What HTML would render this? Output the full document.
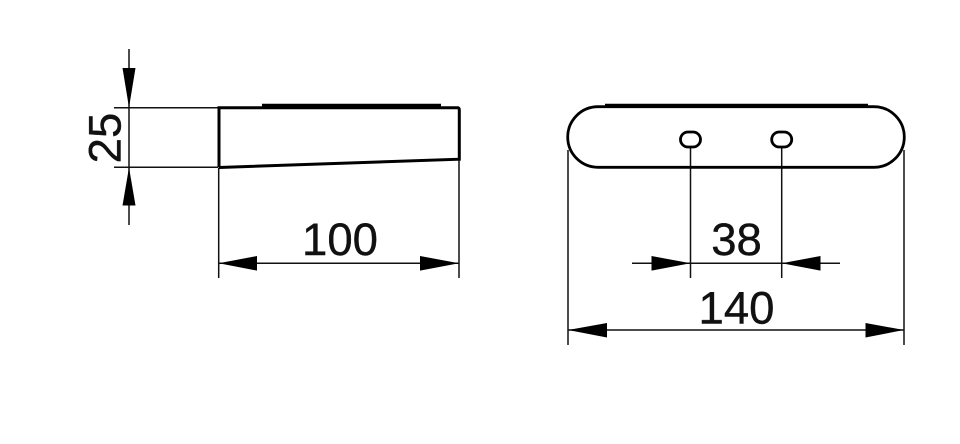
<!DOCTYPE html>
<html>
<head>
<meta charset="utf-8">
<style>
html,body{margin:0;padding:0;background:#fff;width:960px;height:444px;overflow:hidden}
svg{display:block}
text{font-family:"Liberation Sans",sans-serif;font-size:45.5px;fill:#111;stroke:#111;stroke-width:.4px}
</style>
</head>
<body>
<svg width="960" height="444" viewBox="0 0 960 444" xmlns="http://www.w3.org/2000/svg">
<rect width="960" height="444" fill="#fff"/>
<g fill="none" stroke="#111" stroke-width="1.5">
<path d="M129 49V225"/>
<path d="M114 107.7H218M114 167.2H218"/>
<path d="M218.700 168V278M459 160V278"/>
<path d="M219 263.300H459"/>
<path d="M690.500 147V278M781.700 147V278"/>
<path d="M632 263.300H840"/>
<path d="M568 150V345M904 150V345"/>
<path d="M568 330H904"/>
</g>
<g fill="#000">
<path d="M122.500 68H135.500L129 107.500Z"/>
<path d="M122.500 205.500H135.500L129 167.500Z"/>
<path d="M218.700 263.300L257 256V270.600Z"/>
<path d="M459 263.300L420 256V270.600Z"/>
<path d="M690.500 263.300L651.500 256V270.600Z"/>
<path d="M781.700 263.300L820.500 256V270.600Z"/>
<path d="M568 330L607 323V337.500Z"/>
<path d="M904 330L865.500 323V337.500Z"/>
</g>
<g fill="none" stroke="#000">
<path d="M219 167.500V107.700H458Q459.300 108 459.300 110V159.200L219 167.500" stroke-width="3"/>
<path d="M262 105.500H441" stroke-width="3.600"/>
<path d="M598 106.700H874A30.300 30.300 0 0 1 874 167.300H598A30.300 30.300 0 0 1 598 106.700Z" stroke-width="2.800"/>
<path d="M605 105.500H868" stroke-width="3.400"/>
<rect x="680.500" y="132" width="20" height="15" rx="7.500" ry="7.500" stroke-width="2.800"/>
<rect x="771.700" y="132" width="20" height="15" rx="7.500" ry="7.500" stroke-width="2.800"/>
</g>
<text x="340" y="255" text-anchor="middle">100</text>
<text x="736.500" y="255" text-anchor="middle">38</text>
<text x="736.500" y="323.500" text-anchor="middle">140</text>
<text transform="translate(120.500 138) rotate(-90)" text-anchor="middle">25</text>
</svg>
</body>
</html>
